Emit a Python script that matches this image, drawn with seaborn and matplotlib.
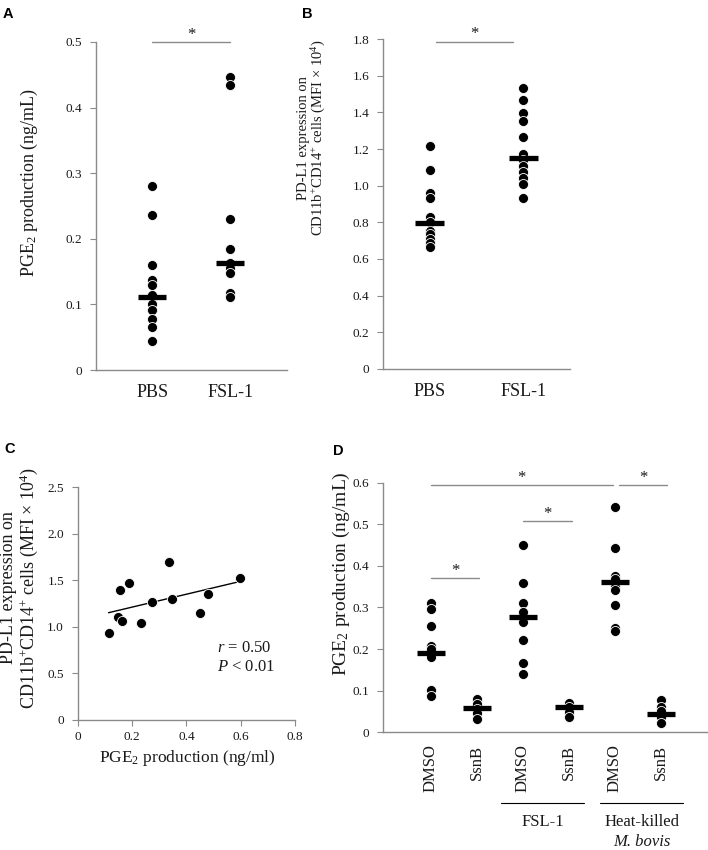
import numpy as np
import matplotlib
matplotlib.use('Agg')
import matplotlib.pyplot as plt
import matplotlib.transforms as mtrans
import seaborn as sns

# ---- data ----
# A: PGE2 production
a_groups = ['PBS', 'FSL-1']
a_pbs = [0.281, 0.237, 0.160, 0.137, 0.129, 0.115, 0.101, 0.091, 0.077, 0.065, 0.044]
a_fsl = [0.447, 0.434, 0.230, 0.184, 0.163, 0.155, 0.148, 0.118, 0.111]
a_bars = [0.112, 0.163]
a_yticks = [0, 0.1, 0.2, 0.3, 0.4, 0.5]
a_yticklabels = ['0', '0.1', '0.2', '0.3', '0.4', '0.5']

# B: PD-L1 expression
b_pbs = [1.216, 1.085, 0.958, 0.935, 0.830, 0.800, 0.755, 0.735, 0.710, 0.689, 0.667]
b_fsl = [1.531, 1.467, 1.395, 1.353, 1.267, 1.173, 1.140, 1.107, 1.077, 1.044, 1.008, 0.931]
b_bars = [0.795, 1.153]
b_yticks = [0, 0.2, 0.4, 0.6, 0.8, 1.0, 1.2, 1.4, 1.6, 1.8]
b_yticklabels = ['0', '0.2', '0.4', '0.6', '0.8', '1.0', '1.2', '1.4', '1.6', '1.8']

# C: correlation
c_pge2 = [0.113, 0.148, 0.162, 0.156, 0.187, 0.232, 0.272, 0.335, 0.346, 0.449, 0.481, 0.599]
c_pdl1 = [0.929, 1.105, 1.065, 1.395, 1.467, 1.044, 1.263, 1.700, 1.295, 1.144, 1.349, 1.528]
c_xticks = [0, 0.2, 0.4, 0.6, 0.8]
c_xticklabels = ['0', '0.2', '0.4', '0.6', '0.8']
c_yticks = [0, 0.5, 1.0, 1.5, 2.0, 2.5]
c_yticklabels = ['0', '0.5', '1.0', '1.5', '2.0', '2.5']

# D: PGE2 with SsnB
d_keys = ['ctl_dmso', 'ctl_ssnb', 'fsl_dmso', 'fsl_ssnb', 'hk_dmso', 'hk_ssnb']
d_ticklabels = ['DMSO', 'SsnB', 'DMSO', 'SsnB', 'DMSO', 'SsnB']
d_ctl_dmso = [0.310, 0.296, 0.255, 0.207, 0.200, 0.180, 0.101, 0.087]
d_ctl_ssnb = [0.080, 0.068, 0.056, 0.045, 0.031]
d_fsl_dmso = [0.451, 0.360, 0.310, 0.290, 0.266, 0.222, 0.166, 0.140]
d_fsl_ssnb = [0.069, 0.060, 0.049, 0.037]
d_hk_dmso = [0.541, 0.443, 0.376, 0.368, 0.350, 0.343, 0.306, 0.251, 0.243]
d_hk_ssnb = [0.078, 0.061, 0.050, 0.035, 0.022]
d_bars = [0.191, 0.059, 0.278, 0.060, 0.362, 0.043]
d_yticks = [0, 0.1, 0.2, 0.3, 0.4, 0.5, 0.6]
d_yticklabels = ['0', '0.1', '0.2', '0.3', '0.4', '0.5', '0.6']

# ---- style ----
sns.set_theme(style='white')
plt.rcParams['font.family'] = ['Liberation Serif', 'DejaVu Serif']
plt.rcParams['mathtext.fontset'] = 'custom'
plt.rcParams['mathtext.rm'] = 'Liberation Serif'
plt.rcParams['mathtext.it'] = 'Liberation Serif:italic'
plt.rcParams['mathtext.bf'] = 'Liberation Serif:bold'

GRAY = '#8a8a8a'
TXT = '#1a1a1a'
DOT = 7.2

fig = plt.figure(figsize=(7.08, 8.5), dpi=100)


def style_axes(ax, yticks, ylabels, ylim):
    for s in ['top', 'right']:
        ax.spines[s].set_visible(False)
    for s in ['left', 'bottom']:
        ax.spines[s].set_color(GRAY)
        ax.spines[s].set_linewidth(1.0)
    ax.set_ylim(*ylim)
    ax.set_yticks(yticks)
    ax.set_yticklabels(ylabels)
    ax.tick_params(axis='y', length=4, width=0.8, color=GRAY, labelsize=9.5,
                   labelcolor=TXT, pad=6, left=True)
    ax.set_xlabel('')
    ax.set_ylabel('')


def sig(ax, x0, x1, y):
    ax.plot([x0, x1], [y, y], color=GRAY, lw=1.0, clip_on=False)
    ax.annotate('*', xy=((x0 + x1) / 2, y), xytext=(0, 2.5), textcoords='offset points',
                ha='center', va='baseline', fontsize=12, color=TXT, annotation_clip=False)


def strip(ax, keys, groups, bars, half):
    xs, ys = [], []
    for k, g in zip(keys, groups):
        xs += [k] * len(g)
        ys += list(g)
    sns.stripplot(x=xs, y=ys, order=keys, jitter=False, color='black', size=DOT,
                  edgecolor='white', linewidth=0.6, ax=ax, zorder=3)
    ax.hlines(bars, np.arange(len(keys)) - half, np.arange(len(keys)) + half,
              color='black', lw=3.8, zorder=4)


# ---- A ----
axA = fig.add_axes([0.1356, 0.5647, 0.2698, 0.3859])
strip(axA, a_groups, [a_pbs, a_fsl], a_bars, 0.18)
style_axes(axA, a_yticks, a_yticklabels, (0, 0.5))
axA.set_xlim(-0.72, 1.73)
axA.tick_params(axis='x', length=0, labelsize=13, pad=10, labelcolor=TXT)
sig(axA, 0, 1, 0.5)
fig.text(0.041, 0.785, r'PGE$_2$ production (ng/mL)', rotation=90, ha='center', va='center',
         fontsize=13, color=TXT)

# ---- B ----
axB = fig.add_axes([0.541, 0.5659, 0.264, 0.3882])
strip(axB, a_groups, [b_pbs, b_fsl], b_bars, 0.155)
style_axes(axB, b_yticks, b_yticklabels, (0, 1.8))
axB.set_xlim(-0.5, 1.5)
axB.tick_params(axis='x', length=0, labelsize=13, pad=10, labelcolor=TXT)
sig(axB, 0.07, 0.89, 1.786)
fig.text(0.4417, 0.8376,
         'PD-L1 expression on\n' + r'CD11b$^{+}$CD14$^{+}$ cells (MFI $\times$ 10$^{4}$)',
         rotation=90, ha='center', va='center', ma='center', fontsize=10.5,
         linespacing=1.0, color=TXT)

# ---- C ----
axC = fig.add_axes([0.110, 0.153, 0.3067, 0.274])
sns.scatterplot(x=c_pge2, y=c_pdl1, color='black', s=52, edgecolor='white', linewidth=0.6,
                ax=axC, zorder=3)
sns.regplot(x=c_pge2, y=c_pdl1, scatter=False, ci=None, truncate=True, color='black',
            line_kws={'lw': 1.0}, ax=axC)
style_axes(axC, c_yticks, c_yticklabels, (0, 2.5))
axC.set_xlim(0, 0.8)
axC.set_xticks(c_xticks)
axC.set_xticklabels(c_xticklabels)
axC.tick_params(axis='x', length=4, width=0.8, color=GRAY, labelsize=9.5, pad=4,
                labelcolor=TXT, bottom=True)
axC.text(0.512, 0.773, r'$r$ = 0.50', ha='left', va='center', fontsize=12, color=TXT)
axC.text(0.512, 0.569, r'$P$ < 0.01', ha='left', va='center', fontsize=12, color=TXT)
fig.text(0.265, 1 - 758 / 850, r'PGE$_2$ production (ng/ml)', ha='center', va='center',
         fontsize=12.5, color=TXT)
fig.text(0.0279, 0.3082,
         'PD-L1 expression on\n' + r'CD11b$^{+}$CD14$^{+}$ cells (MFI $\times$ 10$^{4}$)',
         rotation=90, ha='center', va='center', ma='center', fontsize=13,
         linespacing=1.05, color=TXT)

# ---- D ----
axD = fig.add_axes([0.541, 0.1388, 0.4576, 0.293])
strip(axD, d_keys, [d_ctl_dmso, d_ctl_ssnb, d_fsl_dmso, d_fsl_ssnb, d_hk_dmso, d_hk_ssnb],
      d_bars, 0.3)
style_axes(axD, d_yticks, d_yticklabels, (0, 0.6))
axD.set_xlim(-1.04, 6.0)
axD.set_xticks(range(len(d_keys)))
axD.set_xticklabels(d_ticklabels, rotation=90)
axD.tick_params(axis='x', length=0, labelsize=12, pad=9, labelcolor=TXT)
sig(axD, 0, 3.95, 0.594)
sig(axD, 4.08, 5.14, 0.594)
sig(axD, 2.0, 3.06, 0.508)
sig(axD, 0, 1.05, 0.371)
trD = mtrans.blended_transform_factory(axD.transData, fig.transFigure)
axD.plot([1.52, 3.33], [0.0553, 0.0553], color='black', lw=0.8, transform=trD, clip_on=False)
axD.plot([3.67, 5.48], [0.0553, 0.0553], color='black', lw=0.8, transform=trD, clip_on=False)
axD.text(2.43, 0.033, 'FSL-1', ha='center', va='center', fontsize=12, color=TXT,
         transform=trD)
axD.text(4.59, 0.033, 'Heat-killed', ha='center', va='center', fontsize=12, color=TXT,
         transform=trD)
axD.text(4.59, 0.009, 'M. bovis', ha='center', va='center', fontsize=12, style='italic',
         color=TXT, transform=trD)
fig.text(341 / 708, 0.3247, r'PGE$_2$ production (ng/mL)', rotation=90, ha='center',
         va='center', fontsize=14, color=TXT)

# ---- panel letters ----
for lab, x, y in [('A', 3, 7), ('B', 302, 7), ('C', 4, 442), ('D', 333, 444)]:
    fig.text(x / 708, 1 - y / 850, lab, ha='left', va='top', fontsize=10.5,
             fontweight='bold', family=['Liberation Sans', 'DejaVu Sans'], color='black')

fig.savefig('out.png', dpi=100)
